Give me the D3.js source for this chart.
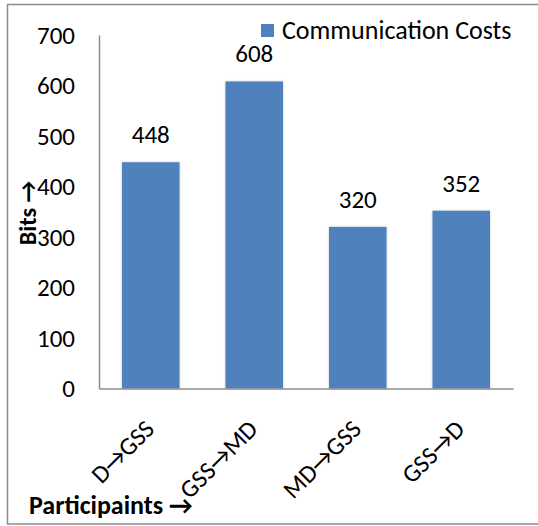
<!DOCTYPE html>
<html>
<head>
<meta charset="utf-8">
<script src="https://cdn.jsdelivr.net/npm/d3@7"></script>
<style>
  body { margin: 0; background: #fff; }
  text { font-family: Carlito, Lato, "Open Sans", sans-serif; fill: #000; }
</style>
</head>
<body>
<div id="chart"></div>
<script>
// chart values
const categories = ["D\u2192GSS", "GSS\u2192MD", "MD\u2192GSS", "GSS\u2192D"];
const costs = [448, 608, 320, 352];
const yTicks = [0, 100, 200, 300, 400, 500, 600, 700];
const seriesName = "Communication Costs";

const W = 538, H = 526;
const margin = { left: 99, right: 25, top: 35, bottom: 137.5 };
const width = W - margin.left - margin.right;
const height = H - margin.top - margin.bottom;
const fs = "25px";

const svg = d3.select("#chart")
  .append("svg")
    .attr("width", W)
    .attr("height", H);

const defs = svg.append("defs");
const shadow = defs.append("filter")
  .attr("id", "barShadow")
  .attr("x", "-20%").attr("y", "-5%")
  .attr("width", "140%").attr("height", "110%");
shadow.append("feDropShadow")
  .attr("dx", 0).attr("dy", 0)
  .attr("stdDeviation", 1.2)
  .attr("flood-color", "#000")
  .attr("flood-opacity", 0.25);

// outer chart border
svg.append("rect")
  .attr("x", 7.5).attr("y", 4.5)
  .attr("width", W)
  .attr("height", 519.5)
  .attr("fill", "none")
  .attr("stroke", "#8c8c8c")
  .attr("stroke-width", 1.5);

const x = d3.scaleBand()
  .domain(categories)
  .range([0, width])
  .paddingInner(0.444)
  .paddingOuter(0.222);

const y = d3.scaleLinear()
  .domain([0, 700])
  .range([height, 0]);

const g = svg.append("g")
  .attr("transform", `translate(${margin.left},${margin.top})`);

// bars
g.append("g")
  .attr("class", "bar")
  .selectAll("rect")
  .data(costs)
  .enter().append("rect")
    .attr("x", (d, i) => x(categories[i]))
    .attr("y", d => y(d))
    .attr("width", x.bandwidth())
    .attr("height", d => height - y(d))
    .attr("fill", "#4f81bd")
    .attr("filter", "url(#barShadow)");

// value labels
g.append("g")
  .selectAll("text")
  .data(costs)
  .enter().append("text")
    .attr("x", (d, i) => x(categories[i]) + x.bandwidth() / 2)
    .attr("y", d => y(d) - 19)
    .attr("text-anchor", "middle")
    .style("font-size", fs)
    .text(d => d);

// y axis
const yAxis = d3.axisLeft(y)
  .tickValues(yTicks)
  .tickSize(0)
  .tickPadding(24);

const yg = g.append("g").call(yAxis);
yg.select(".domain").attr("stroke", "#8c8c8c").attr("stroke-width", 1.5);
yg.selectAll("text").style("font-size", fs).attr("fill", "#000");

// x axis
const xAxis = d3.axisBottom(x).tickSize(0).tickFormat("");
const xg = g.append("g")
  .attr("transform", `translate(0,${height})`)
  .call(xAxis);
xg.select(".domain").attr("stroke", "#8c8c8c").attr("stroke-width", 1.5);

// rotated category labels
g.append("g")
  .selectAll("text")
  .data(categories)
  .enter().append("text")
    .attr("transform", d => `translate(${x(d) + x.bandwidth() / 2 + 5},${height + 42}) rotate(-45)`)
    .attr("text-anchor", "end")
    .style("font-size", fs)
    .text(d => d);

// axis titles
svg.append("text")
  .attr("transform", "translate(36,213) rotate(-90)")
  .attr("text-anchor", "middle")
  .style("font-size", "24px")
  .style("font-weight", "bold")
  .text("Bits \u2192");

svg.append("text")
  .attr("x", 29)
  .attr("y", 514)
  .style("font-size", "26px")
  .style("font-weight", "bold")
  .text("Participaints \u2192");

// legend
const legend = svg.append("g")
  .attr("class", "legend")
  .attr("transform", "translate(261,24)");
legend.append("rect")
  .attr("width", 13).attr("height", 13)
  .attr("fill", "#4f81bd");
legend.append("text")
  .attr("x", 21)
  .attr("y", 15)
  .style("font-size", "26px")
  .text(seriesName);
</script>
</body>
</html>
